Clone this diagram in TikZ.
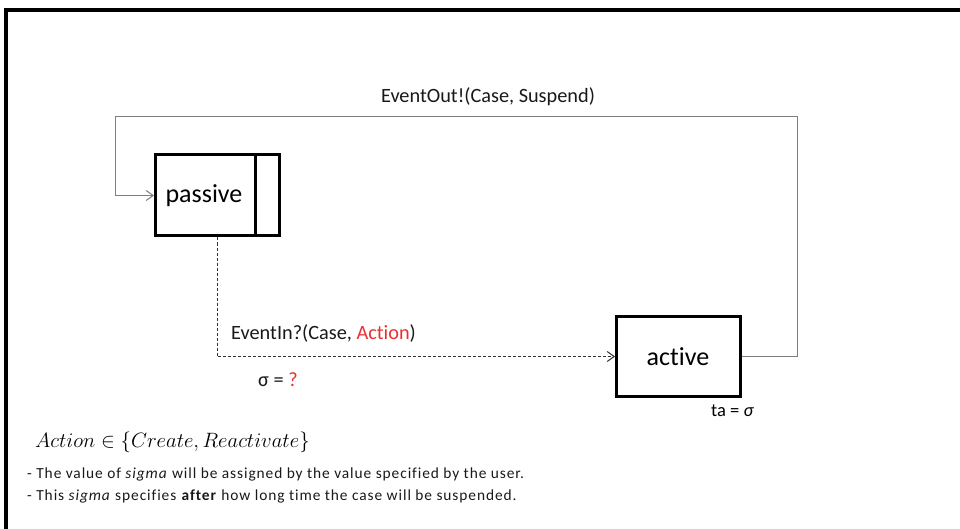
\documentclass[tikz,border=0pt]{standalone}
\usepackage{fontspec}
\setmainfont{Carlito}[Ligatures=NoCommon]
\usetikzlibrary{arrows.meta}
\definecolor{redtxt}{HTML}{E8302F}
\definecolor{linegray}{HTML}{7F7F7F}
\tikzset{
  statebox/.style={draw=black, line width=3pt, fill=white, inner sep=0pt},
  statelbl/.style={font=\fontsize{26}{30}\selectfont, inner sep=0pt},
  lbl/.style={font=\fontsize{20.3}{24}\selectfont, inner sep=0pt, text=black!90},
  note/.style={font=\fontsize{15.4}{18}\selectfont\addfontfeatures{LetterSpace=6}, inner sep=0pt, anchor=west, text=black!90},
  conn/.style={draw=linegray, line width=1.4pt, -{Straight Barb[length=7pt,width=10pt,line width=1pt]}},
  dconn/.style={draw=black!80, line width=1pt, dash pattern=on 3pt off 2pt, -{Straight Barb[length=7pt,width=10pt,line width=1pt]}}
}
\begin{document}
\begin{tikzpicture}[x=1pt,y=-1pt]
\useasboundingbox (0,0) rectangle (960,529);
% frame
\draw[line width=3.5pt] (6,531) -- (6,10) -- (962,10);
% states
\node[statebox, minimum width=123.5pt, minimum height=81pt] (passive) at (217.25,195.5) {};
\draw[line width=3pt] (255,155) -- (255,236);
\node[statelbl] (passivelbl) at (204,196) {passive};
\node[statebox, minimum width=124pt, minimum height=80pt] (active) at (678.5,356.5) {};
\node[statelbl] (activelbl) at (678,357) {active};
% loop connector
\coordinate (tr) at (797.5,116.5);
\coordinate (tl) at (115.7,116.5);
\draw[conn] (active.east) -| (tr) -- (tl) |- (passive.west);
\node[lbl] (outlbl) at (488,97) {EventOut!(Case, Suspend)};
% dashed connector
\draw[dconn] (passive.south) |- (active.west);
\node[lbl, anchor=west] (inlbl) at (231,333) {EventIn?(Case, \textcolor{redtxt}{Action})};
\node[lbl, anchor=west] (siglbl) at (258,380) {σ = \textcolor{redtxt}{?}};
\node[font=\fontsize{18.5}{22}\selectfont, inner sep=0pt, anchor=west] (talbl) at (711,411) {ta = \textit{σ}};
% notes
\node[anchor=west, inner sep=0pt, font=\fontsize{21.5}{24}\selectfont] (setlbl) at (35,442) {$Action \in \{Create, Reactivate\}$};
\node[note] (note1) at (27,474) {- The value of \textit{sigma} will be assigned by the value specified by the user.};
\node[note] (note2) at (27,496) {- This \textit{sigma} specifies \textbf{after} how long time the case will be suspended.};
\end{tikzpicture}
\end{document}
